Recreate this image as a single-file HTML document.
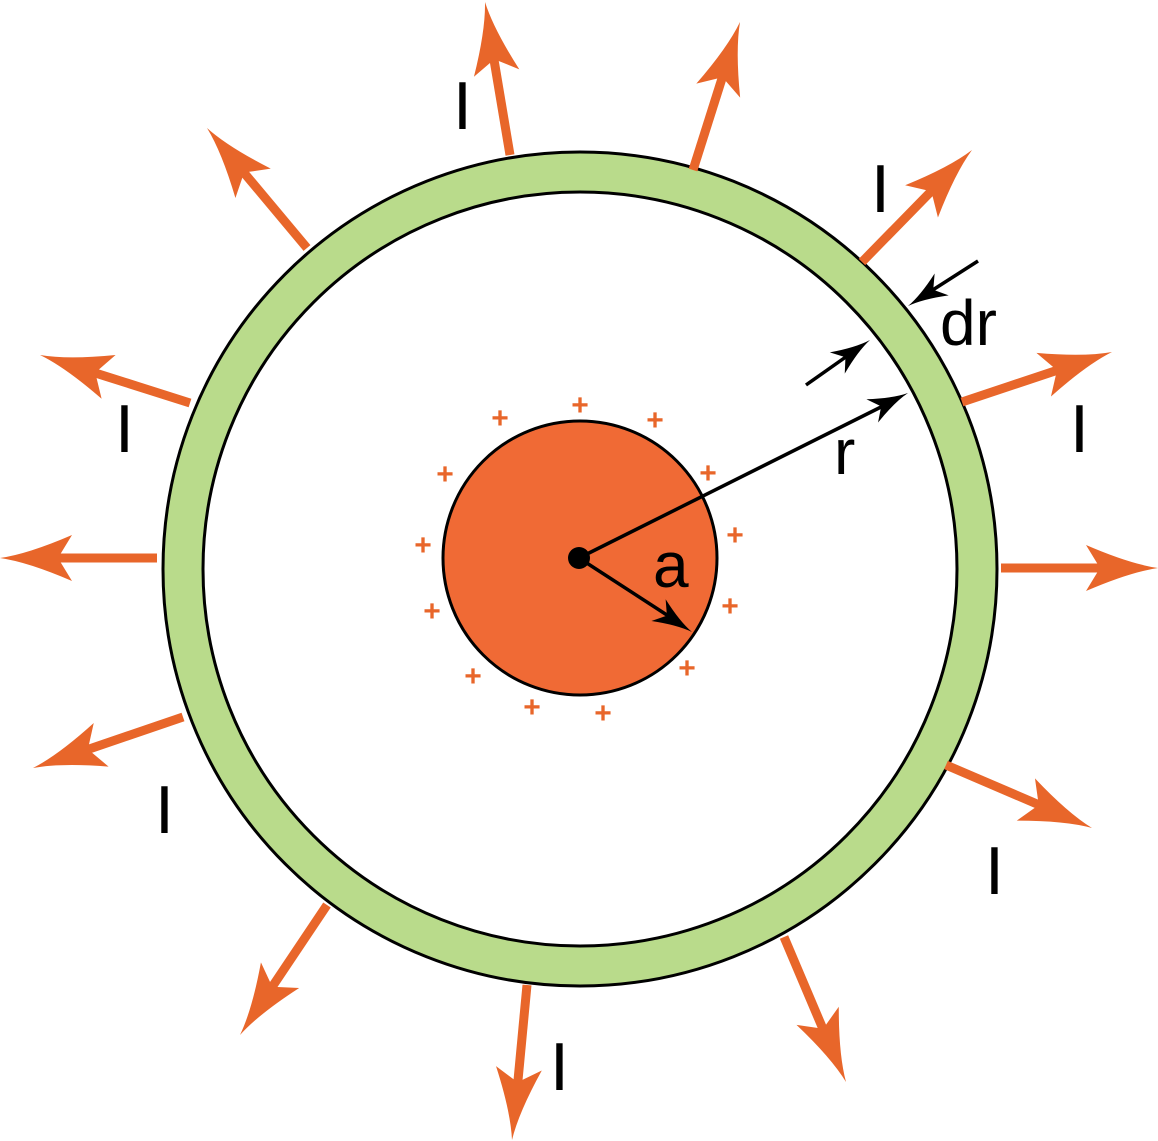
<!DOCTYPE html>
<html><head><style>html,body{margin:0;padding:0;background:#fff}svg{display:block}</style></head>
<body>
<svg width="1158" height="1141" viewBox="0 0 1158 1141" xmlns="http://www.w3.org/2000/svg">
<defs>
<path id="oh" d="M0,0 Q-28,-4 -72,-23 L-58,0 L-72,23 Q-28,4 0,0 Z" fill="#e8662a"/>
<path id="bh" d="M0,0 Q-16,-2 -40,-13 L-30,0 L-40,13 Q-16,2 0,0 Z" fill="#000"/>
</defs>
<circle cx="580" cy="569" r="397" fill="none" stroke="#000" stroke-width="43"/>
<circle cx="580" cy="569" r="397" fill="none" stroke="#b9db8b" stroke-width="37"/>
<circle cx="580" cy="558" r="137" fill="#f06a35" stroke="#000" stroke-width="3"/>
<g stroke="#e8662a" stroke-width="9">
<line x1="510" y1="155" x2="489" y2="30"/>
<line x1="693" y1="170" x2="731" y2="50"/>
<line x1="862" y1="262" x2="950" y2="172"/>
<line x1="962" y1="402" x2="1085" y2="361"/>
<line x1="1001" y1="568" x2="1130" y2="568"/>
<line x1="946" y1="765" x2="1065" y2="816"/>
<line x1="784" y1="937" x2="834" y2="1055"/>
<line x1="527" y1="985" x2="515" y2="1112"/>
<line x1="327" y1="905" x2="256" y2="1011"/>
<line x1="183" y1="717" x2="60" y2="759"/>
<line x1="157" y1="558" x2="28" y2="558"/>
<line x1="190" y1="403" x2="67" y2="364"/>
<line x1="307" y1="248" x2="225" y2="150"/>
</g>
<use href="#oh" transform="translate(485,2) rotate(-99.3)"/>
<use href="#oh" transform="translate(740,22) rotate(-72.4)"/>
<use href="#oh" transform="translate(972,150) rotate(-45.5)"/>
<use href="#oh" transform="translate(1112,352) rotate(-18.4)"/>
<use href="#oh" transform="translate(1158,568) rotate(0)"/>
<use href="#oh" transform="translate(1092,828) rotate(23.3)"/>
<use href="#oh" transform="translate(846,1082) rotate(66.8)"/>
<use href="#oh" transform="translate(512,1140) rotate(95.5)"/>
<use href="#oh" transform="translate(240,1035) rotate(123.8)"/>
<use href="#oh" transform="translate(33,768) rotate(161.2)"/>
<use href="#oh" transform="translate(0,558) rotate(180)"/>
<use href="#oh" transform="translate(40,355) rotate(-162.3)"/>
<use href="#oh" transform="translate(207,128) rotate(-129.8)"/>
<g stroke="#000" stroke-width="3.5">
<line x1="579" y1="558" x2="885" y2="405"/>
<line x1="579" y1="558" x2="670" y2="617"/>
<line x1="978" y1="261" x2="928" y2="293"/>
<line x1="806" y1="385" x2="850" y2="354"/>
</g>
<circle cx="579" cy="558" r="11" fill="#000"/>
<use href="#bh" transform="translate(908,393) rotate(-26.6)"/>
<use href="#bh" transform="translate(692,632) rotate(33.2)"/>
<use href="#bh" transform="translate(908,306) rotate(147.3)"/>
<use href="#bh" transform="translate(870,340) rotate(-35.1)"/>
<g font-family="Liberation Sans, sans-serif" font-size="68" fill="#000">
<text x="453" y="129">I</text>
<text x="871" y="212">I</text>
<text x="1070" y="452">I</text>
<text x="115" y="452">I</text>
<text x="155" y="833">I</text>
<text x="985" y="894">I</text>
<text x="550" y="1090">I</text>
<text x="940" y="345" font-size="64">dr</text>
<text x="834" y="474" font-size="64">r</text>
<text x="653" y="587" font-size="64">a</text>
</g>
<g font-family="Liberation Sans, sans-serif" font-size="30" font-weight="bold" fill="#e8662a" text-anchor="middle">
<text x="500" y="428">+</text><text x="580" y="415">+</text><text x="655" y="430">+</text>
<text x="708" y="483">+</text><text x="735" y="545">+</text><text x="730" y="616">+</text>
<text x="687" y="678">+</text><text x="603" y="723">+</text><text x="532" y="717">+</text>
<text x="473" y="686">+</text><text x="432" y="621">+</text><text x="423" y="555">+</text>
<text x="445" y="484">+</text>
</g>
</svg>
</body></html>
